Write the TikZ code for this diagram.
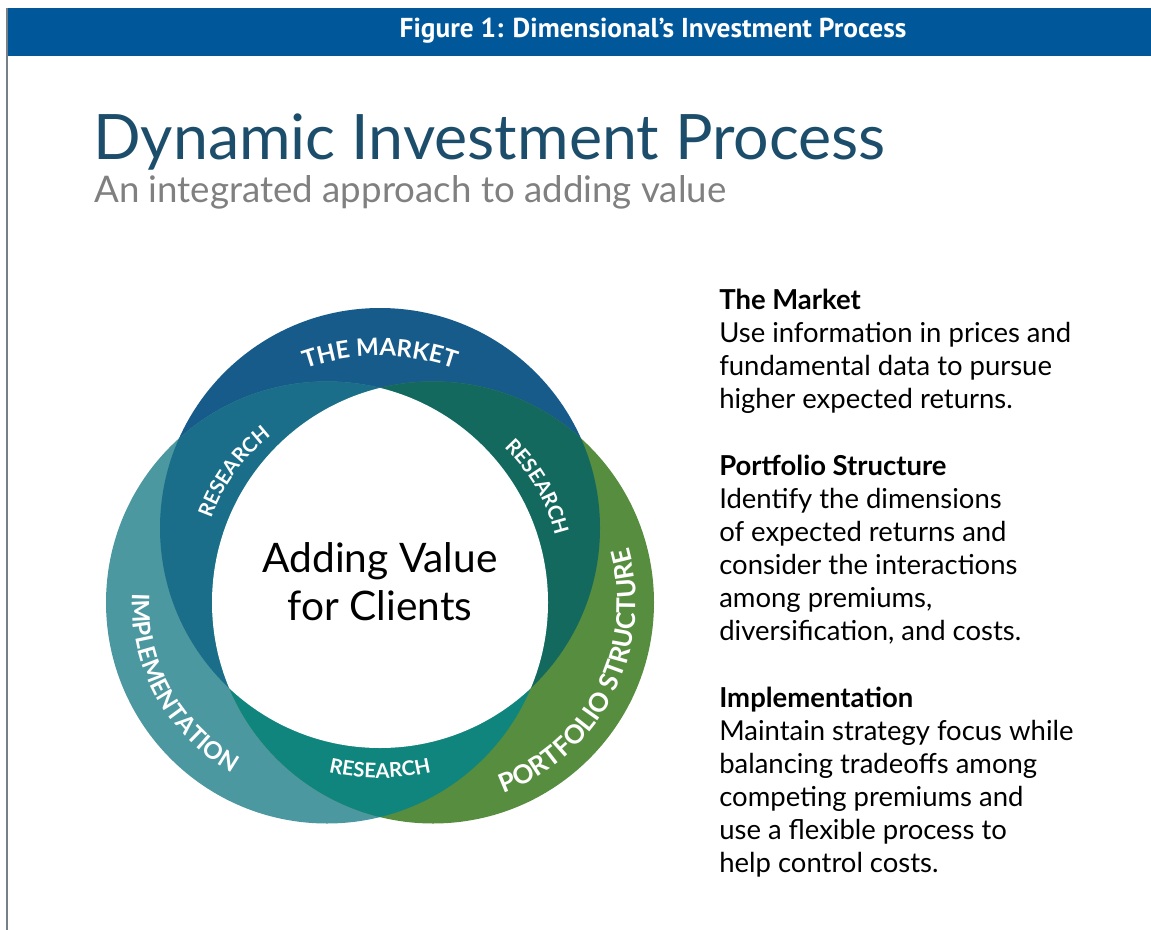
\documentclass[tikz,border=0pt]{standalone}
\usepackage{fontspec}
\setmainfont{Lato}
\newfontfamily\headfont{PT Sans}
\usetikzlibrary{decorations.text}

\definecolor{barblue}{RGB}{0,88,155}
\definecolor{framegray}{RGB}{120,128,135}
\definecolor{titleblue}{RGB}{28,78,108}
\definecolor{subgray}{RGB}{128,128,128}
\definecolor{mktblue}{RGB}{22,91,138}
\definecolor{implteal}{RGB}{76,152,161}
\definecolor{portgreen}{RGB}{87,141,62}
\definecolor{resleft}{RGB}{27,110,137}
\definecolor{resright}{RGB}{20,105,95}
\definecolor{resbottom}{RGB}{15,133,126}

\newcommand*{\ringfont}{\fontsize{18}{20}\selectfont\bfseries}
\newcommand*{\resfont}{\fontsize{15.2}{17}\selectfont\bfseries}

\begin{document}
\begin{tikzpicture}[x=0.75pt,y=-0.75pt,
    ringlabel/.style={decorate,decoration={text along path,text align=center,text color=white,text={#1}}},
    note/.style={anchor=north west,align=left,inner sep=0pt,font=\fontsize{20.6}{24.75}\selectfont}]
\useasboundingbox (0,0) rectangle (1151,930);

% heading bar and frame
\fill[barblue] (7,8) rectangle (1151,56);
\draw[framegray,line width=0.9pt] (7,8) -- (7,930);
\node[text=white,font=\headfont\bfseries\fontsize{20.5}{22}\selectfont] (fig) at (653,31) {Figure 1: Dimensional’s Investment Process};

\node[anchor=base west,inner sep=0pt,text=titleblue,font=\fontsize{47}{50}\selectfont] (title) at (93,160) {Dynamic Investment Process};
\node[anchor=base west,inner sep=0pt,text=subgray,font=\fontsize{27.5}{30}\selectfont] (sub) at (94,203) {An integrated approach to adding value};

% centres of the three circles
\coordinate (mkt) at (380,528);
\coordinate (impl) at (327,602.5);
\coordinate (port) at (433,602.5);
\coordinate (mid) at (380,578);

\fill[mktblue] (mkt) circle (220);
\fill[implteal] (impl) circle (221);
\fill[portgreen] (port) circle (221);
% pairwise overlaps
\begin{scope}
  \clip (mkt) circle (220);
  \fill[resleft] (impl) circle (221);
  \fill[resright] (port) circle (221);
\end{scope}
\begin{scope}
  \clip (impl) circle (221);
  \fill[resbottom] (port) circle (221);
\end{scope}
% all three
\begin{scope}
  \clip (mkt) circle (220);
  \clip (impl) circle (221);
  \fill[white] (port) circle (221);
\end{scope}

% labels on the rings
\path[ringlabel={|\ringfont|THE MARKET}] (380,581) ++(225:225) arc[start angle=225,end angle=315,radius=225];
\path[ringlabel={|\ringfont|IMPLEMENTATION}] (impl) ++(206:195) arc[start angle=206,end angle=96,radius=195];
\path[ringlabel={|\fontsize{19.5}{22}\selectfont\bfseries|PORTFOLIO STRUCTURE}] (port) ++(92:203) arc[start angle=92,end angle=-38,radius=203];
\path[ringlabel={|\resfont|RESEARCH}] (mid) ++(186:179) arc[start angle=186,end angle=246,radius=179];
\path[ringlabel={|\resfont|RESEARCH}] (mid) ++(300:180) arc[start angle=300,end angle=360,radius=180];
\path[ringlabel={|\resfont|RESEARCH}] (380,553) ++(110:225) arc[start angle=110,end angle=70,radius=225];

\node[align=center,font=\fontsize{30.5}{36}\selectfont] (core) at (380,582) {Adding Value\\for Clients};

% notes on the right
\node[note] (mktnote) at (719,289) {\textbf{The Market}\\Use information in prices and\\fundamental data to pursue\\higher expected returns.};
\node[note] (portnote) at (719,455) {\textbf{Portfolio Structure}\\Identify the dimensions\\of expected returns and\\consider the interactions\\among premiums,\\diversification, and costs.};
\node[note] (implnote) at (719,687) {\textbf{Implementation}\\Maintain strategy focus while\\balancing tradeoffs among\\competing premiums and\\use a flexible process to\\help control costs.};
\end{tikzpicture}
\end{document}
